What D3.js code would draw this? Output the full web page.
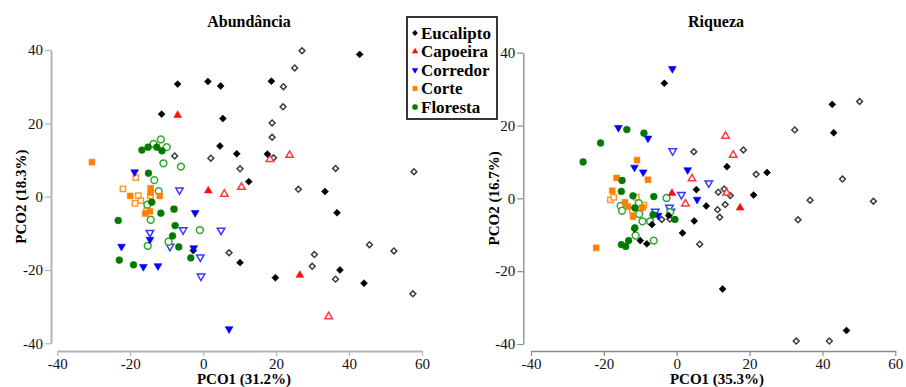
<!DOCTYPE html>
<html>
<head>
<meta charset="utf-8">
<script src="https://cdn.jsdelivr.net/npm/d3@7"></script>
<style>
  body { margin: 0; background: #fff; }
</style>
</head>
<body>
<div id="vis"></div>
<script>
// groups in legend order
const groups = ["Eucalipto", "Capoeira", "Corredor", "Corte", "Floresta"];
const xTicks = [-40, -20, 0, 20, 40, 60];
const yTicks = [-40, -20, 0, 20, 40];

// Abundância panel, [PCO1, PCO2]
const abEucaliptoFilled = [[-7.0,30.7],[1.3,31.4],[4.8,30.2],[-11.4,22.5],[5.4,21.3],[4.6,13.8],[9.2,11.7],[12.5,4.1],[42.9,38.8],[18.7,31.5],[17.6,11.6],[33.4,1.4],[36.7,-4.4],[37.5,-20.0],[44.1,-23.6],[19.8,-22.1],[-2.7,-14.7],[10.1,-18.0]];
const abEucaliptoOpen = [[-7.8,11.1],[2.1,10.5],[10.1,7.6],[27.1,39.8],[25.1,35.1],[22.0,30.0],[21.9,24.5],[18.9,20.1],[18.9,16.2],[19.3,10.6],[36.3,7.7],[57.8,6.8],[26.1,2.0],[45.6,-13.1],[52.3,-14.8],[30.5,-15.8],[29.9,-19.0],[36.3,-22.5],[57.5,-26.5],[7.1,-15.3]];
const abCapoeiraFilled = [[-7.0,22.2],[1.4,1.6],[26.5,-21.4]];
const abCapoeiraOpen = [[18.3,10.2],[23.7,11.3],[5.8,0.7],[10.5,2.6],[34.4,-32.7]];
const abCorredorFilled = [[-18.8,6.7],[-22.4,-13.6],[-14.6,-11.7],[-2.2,-4.4],[-16.4,-19.1],[-12.4,-18.9],[-2.6,-14.0],[7.1,-36.1]];
const abCorredorOpen = [[-6.5,1.8],[-14.6,-9.8],[-5.5,-9.1],[-9.1,-13.6],[-0.8,-16.5],[-0.6,-21.7],[4.9,-9.2]];
const abCorteFilled = [[-30.5,9.4],[-20.0,0.2],[-14.4,2.3],[-14.4,1.1],[-11.9,0.2],[-15.9,-4.6],[-14.6,-4.0],[-8.0,-3.4]];
const abCorteOpen = [[-18.5,5.2],[-22.0,2.1],[-17.8,0.3],[-17.1,-1.1],[-18.7,-1.8],[-15.5,-3.8],[-14.5,0.2]];
const abFlorestaFilled = [[-16.8,12.7],[-15.1,13.5],[-12.7,13.5],[-11.3,12.5],[-15.0,6.4],[-23.3,-6.5],[-14.1,-1.5],[-11.6,-4.5],[-7.7,-7.9],[-8.4,-10.7],[-6.7,-13.7],[-3.4,-16.7],[-23.0,-17.3],[-19.1,-18.6],[-8.0,-3.4]];
const abFlorestaOpen = [[-13.6,14.4],[-11.6,15.6],[-10.0,13.5],[-10.9,9.1],[-6.1,8.2],[-13.4,4.5],[-12.2,1.5],[-15.3,-2.2],[-14.4,-6.3],[-0.9,-9.1],[-9.5,-12.3],[-15.2,-13.4]];

// Riqueza panel
const riEucaliptoFilled = [[-3.4,31.6],[42.7,25.8],[43.1,18.0],[13.8,8.7],[24.8,7.1],[5.4,2.4],[21.1,0.9],[8.1,-2.1],[4.8,-6.2],[1.6,-9.5],[12.6,-24.9],[46.6,-36.3],[-11.6,-8.4],[-10.0,-11.6],[-8.2,-12.5],[-6.8,-7.2],[-2.2,-4.7]];
const riEucaliptoOpen = [[4.7,12.8],[50.2,26.6],[32.4,18.8],[18.3,13.3],[21.8,6.6],[45.5,5.3],[11.4,1.7],[13.0,2.6],[14.7,0.8],[36.6,-0.5],[54.0,-0.8],[11.2,-3.1],[13.3,-1.7],[11.8,-5.2],[33.3,-5.9],[6.3,-12.6],[32.8,-39.2],[41.9,-39.2],[-4.1,-5.8],[-1.9,-5.7]];
const riCapoeiraFilled = [[17.4,-2.6],[-1.3,1.4]];
const riCapoeiraOpen = [[4.2,5.4],[13.4,17.1],[15.5,11.9],[2.4,-1.5],[13.7,1.5]];
const riCorredorFilled = [[-1.2,35.6],[-16.0,19.4],[-7.9,16.5],[-11.6,8.5],[-9.2,7.2],[3.0,7.8],[5.6,-0.3],[-5.1,-4.7]];
const riCorredorOpen = [[-1.1,13.0],[8.8,4.2],[1.3,1.0],[-5.9,-3.6],[-2.0,-2.5],[-1.6,-3.6]];
const riCorteFilled = [[-10.9,10.5],[-16.5,5.6],[-7.9,5.1],[-17.7,2.1],[-14.2,-1.1],[-12.0,-5.0],[-22.1,-13.6],[-13.4,-2.3],[-9.4,-2.5]];
const riCorteOpen = [[-18.2,-0.4],[-17.3,0.3],[-11.1,0.3],[-12.2,-3.2],[-9.0,-1.9],[-9.8,-2.6]];
const riFlorestaFilled = [[-13.7,18.9],[-9.0,17.9],[-20.9,15.2],[-25.7,10.0],[-15.0,4.9],[-15.2,1.9],[-12.0,0.7],[-11.5,-2.6],[-6.3,0.5],[-6.5,-4.5],[-11.5,-8.1],[-13.2,-11.6],[-15.2,-12.7],[-14.0,-13.2],[-0.5,-5.8]];
const riFlorestaOpen = [[-15.4,-2.1],[-15.0,-3.4],[-10.4,-1.3],[-10.3,-4.3],[-9.4,-6.3],[-7.3,-6.3],[-11.3,-10.2],[-6.3,-11.6],[-2.8,0.1],[-1.8,-3.8]];

const serif = "'Liberation Serif', 'Times New Roman', Times, 'DejaVu Serif', serif";

// marker look per group
const style = {
    Eucalipto: { shape: d3.symbolSquare, size: 24, openSize: 17, rot: 45, fill: "#000", open: "#3c3c3c" },
    Capoeira:  { shape: d3.symbolTriangle, size: 26, openSize: 24, rot: 0, fill: "#ff1010", open: "#ff3a3a" },
    Corredor:  { shape: d3.symbolTriangle, size: 26, openSize: 24, rot: 180, fill: "#0000ff", open: "#3a3aff" },
    Corte:     { shape: d3.symbolSquare, size: 34, openSize: 28, rot: 0, fill: "#ff7f00", open: "#ff9a2a" },
    Floresta:  { shape: d3.symbolCircle, size: 36, openSize: 36, rot: 0, fill: "#007a00", open: "#2ea82e" }
};

const W = 906, H = 387;
const svg = d3.select("#vis").append("svg")
    .attr("width", W).attr("height", H)
    .attr("font-family", serif);

const panels = [
    {
        title: "Abundância", xLabel: "PCO1 (31.2%)", yLabel: "PCO2 (18.3%)",
        xRange: [57.3, 422], yRange: [343.3, 50], xAxisY: 351, yAxisX: 51,
        titleX: 249, labelX: 244, yLabelX: 21, axisColor: "#b4b4b4", axisWidth: 2,
        data: {
            Eucalipto: [abEucaliptoFilled, abEucaliptoOpen],
            Capoeira: [abCapoeiraFilled, abCapoeiraOpen],
            Corredor: [abCorredorFilled, abCorredorOpen],
            Corte: [abCorteFilled, abCorteOpen],
            Floresta: [abFlorestaFilled, abFlorestaOpen]
        }
    },
    {
        title: "Riqueza", xLabel: "PCO1 (35.3%)", yLabel: "PCO2 (16.7%)",
        xRange: [531, 895.3], yRange: [344, 52.7], xAxisY: 351, yAxisX: 523.3,
        titleX: 716, labelX: 717, yLabelX: 494, axisColor: "#8a8a8a", axisWidth: 1.3,
        data: {
            Eucalipto: [riEucaliptoFilled, riEucaliptoOpen],
            Capoeira: [riCapoeiraFilled, riCapoeiraOpen],
            Corredor: [riCorredorFilled, riCorredorOpen],
            Corte: [riCorteFilled, riCorteOpen],
            Floresta: [riFlorestaFilled, riFlorestaOpen]
        }
    }
];

panels.forEach(function (p) {
    const x = d3.scaleLinear().domain([-40, 60]).range(p.xRange);
    const y = d3.scaleLinear().domain([-40, 40]).range(p.yRange);

    // x axis
    const gx = svg.append("g")
        .attr("transform", `translate(0,${p.xAxisY})`)
        .call(d3.axisBottom(x).tickValues(xTicks).tickSize(5).tickSizeOuter(0).tickPadding(2));
    // y axis
    const gy = svg.append("g")
        .attr("transform", `translate(${p.yAxisX},0)`)
        .call(d3.axisLeft(y).tickValues(yTicks).tickSize(6).tickSizeOuter(0).tickPadding(2));

    [gx, gy].forEach(function (g) {
        g.attr("font-family", serif);
        g.select(".domain").attr("stroke", p.axisColor).attr("stroke-width", p.axisWidth);
        g.selectAll(".tick line").attr("stroke", p.axisColor).attr("stroke-width", 1.2);
        g.selectAll(".tick text")
            .attr("fill", "#111")
            .attr("font-size", 15)
            .text(d => d < 0 ? "-" + Math.abs(d) : d);
    });

    // title and axis labels
    svg.append("text")
        .attr("x", p.titleX).attr("y", 27)
        .attr("text-anchor", "middle")
        .attr("font-weight", "bold").attr("font-size", 16)
        .text(p.title);
    svg.append("text")
        .attr("x", p.labelX).attr("y", 384)
        .attr("text-anchor", "middle")
        .attr("font-weight", "bold").attr("font-size", 15)
        .text(p.xLabel);
    svg.append("text")
        .attr("transform", `translate(${p.yLabelX},${(p.yRange[0] + p.yRange[1]) / 2}) rotate(-90)`)
        .attr("text-anchor", "middle")
        .attr("dy", "0.35em")
        .attr("font-weight", "bold").attr("font-size", 15)
        .text(p.yLabel);

    // points, open markers first then filled ones
    const layer = svg.append("g");
    groups.forEach(function (g) {
        const st = style[g];
        layer.append("g").selectAll("path")
            .data(p.data[g][1])
            .enter().append("path")
            .attr("d", d3.symbol().type(st.shape).size(st.openSize)())
            .attr("transform", d => `translate(${x(d[0])},${y(d[1])}) rotate(${st.rot})`)
            .attr("fill", "#fff")
            .attr("stroke", st.open)
            .attr("stroke-width", 1.5);
    });
    groups.forEach(function (g) {
        const st = style[g];
        layer.append("g").selectAll("path")
            .data(p.data[g][0])
            .enter().append("path")
            .attr("d", d3.symbol().type(st.shape).size(st.size)())
            .attr("transform", d => `translate(${x(d[0])},${y(d[1])}) rotate(${st.rot})`)
            .attr("fill", st.fill)
            .attr("stroke", st.fill)
            .attr("stroke-width", 0.6);
    });
});

// legend
const legend = svg.append("g");
legend.append("rect")
    .attr("x", 407).attr("y", 17).attr("width", 90).attr("height", 102)
    .attr("fill", "#fff").attr("stroke", "#222").attr("stroke-width", 1.8);
const ly = d3.scalePoint().domain(groups).range([33, 107]);
groups.forEach(function (g) {
    const st = style[g];
    legend.append("path")
        .attr("d", d3.symbol().type(st.shape).size(st.size * 0.7)())
        .attr("transform", `translate(415,${ly(g)}) rotate(${st.rot})`)
        .attr("fill", st.fill);
    legend.append("text")
        .attr("x", 421).attr("y", ly(g)).attr("dy", "0.35em")
        .attr("font-weight", "bold").attr("font-size", 17)
        .text(g);
});
</script>
</body>
</html>
